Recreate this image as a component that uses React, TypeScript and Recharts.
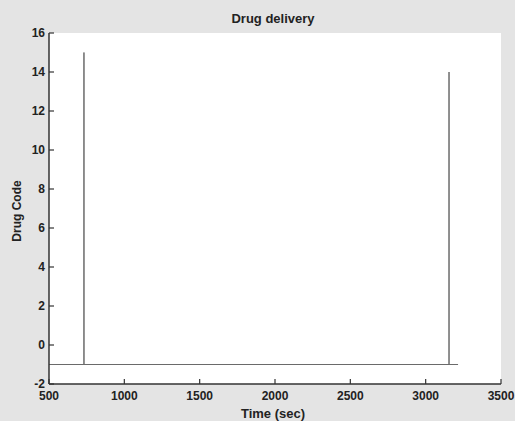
import { LineChart, Line, XAxis, YAxis, CartesianGrid } from "recharts";

// time (sec) and drug code
const times = [500, 732, 732, 732, 3155, 3155, 3155, 3215];
const codes = [-1, -1, 15, -1, -1, 14, -1, -1];
const xTicks = [500, 1000, 1500, 2000, 2500, 3000, 3500];
const yTicks = [-2, 0, 2, 4, 6, 8, 10, 12, 14, 16];

const data = times.map((t, i) => ({ t, code: codes[i] }));

const font = "'Liberation Sans', Arial, sans-serif";
const tickStyle = { fontSize: 12, fill: "#222", fontFamily: font, fontWeight: 600 };
const axisLine = { stroke: "#333", strokeWidth: 1.5 };
const tickLine = { stroke: "#333", strokeWidth: 1.2 };

export default function App() {
  return (
    <div
      style={{
        position: "fixed",
        left: 0,
        top: 0,
        width: 515,
        height: 421,
        background: "#e4e4e4",
      }}
    >
      <LineChart
        width={515}
        height={421}
        data={data}
        margin={{ top: 33, right: 14, bottom: 17, left: 19 }}
      >
        <CartesianGrid horizontal={false} vertical={false} fill="#fff" />
        <XAxis
          xAxisId="b"
          dataKey="t"
          type="number"
          domain={[500, 3500]}
          ticks={xTicks}
          height={20}
          tick={tickStyle}
          tickSize={-5}
          tickMargin={12}
          axisLine={axisLine}
          tickLine={tickLine}
          interval={0}
        />
        <XAxis
          xAxisId="t"
          dataKey="t"
          type="number"
          orientation="top"
          domain={[500, 3500]}
          ticks={xTicks}
          height={0}
          tickFormatter={() => ""}
          tickSize={-5}
          axisLine={axisLine}
          tickLine={tickLine}
          interval={0}
        />
        <YAxis
          yAxisId="l"
          type="number"
          domain={[-2, 16]}
          ticks={yTicks}
          width={30}
          tick={tickStyle}
          tickSize={-5}
          tickMargin={9}
          axisLine={axisLine}
          tickLine={tickLine}
          interval={0}
        />
        <YAxis
          yAxisId="r"
          orientation="right"
          type="number"
          domain={[-2, 16]}
          ticks={yTicks}
          width={0}
          tickFormatter={() => ""}
          tickSize={-5}
          axisLine={axisLine}
          tickLine={tickLine}
          interval={0}
        />
        <Line
          xAxisId="b"
          yAxisId="l"
          dataKey="code"
          type="linear"
          stroke="#6a6a6a"
          strokeWidth={1}
          dot={false}
          isAnimationActive={false}
        />
        <text x={273} y={23} textAnchor="middle" fontSize={13} fontWeight={600} fontFamily={font} fill="#222">
          Drug delivery
        </text>
        <text x={273} y={418} textAnchor="middle" fontSize={13} fontWeight={600} fontFamily={font} fill="#222">
          Time (sec)
        </text>
        <text
          x={21}
          y={211}
          textAnchor="middle"
          fontSize={12}
          fontWeight={600}
          fontFamily={font}
          fill="#222"
          transform="rotate(-90 21 211)"
        >
          Drug Code
        </text>
      </LineChart>
    </div>
  );
}
